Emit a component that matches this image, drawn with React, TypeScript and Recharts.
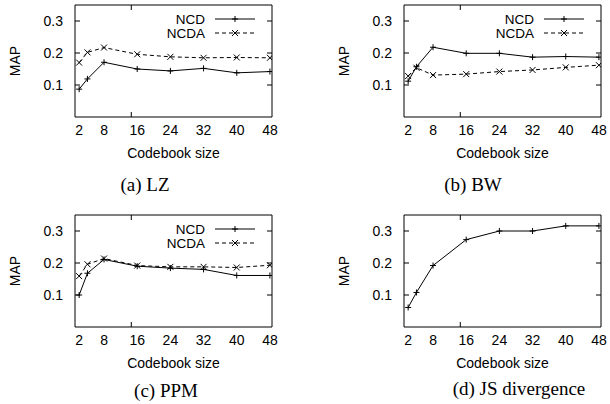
import React from 'react';
import { LineChart, Line, XAxis, YAxis, Legend } from 'recharts';

const codebookSizes = [2, 4, 8, 16, 24, 32, 40, 48];
const xTicks = [2, 8, 16, 24, 32, 40, 48];
const yTicks = [0.1, 0.2, 0.3];

// MAP per codebook size
const lzNcd = [0.087, 0.119, 0.171, 0.150, 0.144, 0.152, 0.138, 0.142];
const lzNcda = [0.170, 0.202, 0.217, 0.196, 0.188, 0.185, 0.186, 0.185];
const bwNcd = [0.112, 0.157, 0.218, 0.199, 0.199, 0.187, 0.189, 0.187];
const bwNcda = [0.128, 0.154, 0.131, 0.134, 0.142, 0.147, 0.155, 0.162];
const ppmNcd = [0.100, 0.168, 0.211, 0.190, 0.184, 0.180, 0.161, 0.161];
const ppmNcda = [0.159, 0.196, 0.214, 0.192, 0.188, 0.188, 0.186, 0.193];
const jsNcd = [0.061, 0.108, 0.192, 0.273, 0.300, 0.300, 0.316, 0.316];

const SANS = '"Liberation Sans", Arial, sans-serif';
const SERIF = '"Liberation Serif", "Times New Roman", serif';

const plusPath = (x: number, y: number) => `M${x - 3},${y}h6M${x},${y - 3}v6`;
const crossPath = (x: number, y: number) => `M${x - 3},${y - 3}l6,6M${x - 3},${y + 3}l6,-6`;

const PlusDot = (props: any) => {
    const { cx, cy, index } = props;
    if (cx == null || cy == null) return <g key={`p-${index}`} />;
    return <path key={`p-${index}`} d={plusPath(cx, cy)} stroke="#000" strokeWidth={1} fill="none" />;
};

const CrossDot = (props: any) => {
    const { cx, cy, index } = props;
    if (cx == null || cy == null) return <g key={`c-${index}`} />;
    return <path key={`c-${index}`} d={crossPath(cx, cy)} stroke="#000" strokeWidth={1} fill="none" />;
};

// mirror axes only draw the inward tick marks, no labels
const NoLabel = () => <g />;

const renderLegend = () => (
    <svg width={130} height={30} style={{ display: 'block' }}>
        <text x={75} y={9} textAnchor="end" dominantBaseline="central" fontSize={13.5} fontFamily={SANS} fill="#000">NCD</text>
        <line x1={85} x2={125} y1={9} y2={9} stroke="#000" strokeWidth={1} />
        <path d={plusPath(105, 9)} stroke="#000" strokeWidth={1} />
        <text x={75} y={23} textAnchor="end" dominantBaseline="central" fontSize={13.5} fontFamily={SANS} fill="#000">NCDA</text>
        <line x1={85} x2={125} y1={23} y2={23} stroke="#000" strokeWidth={1} strokeDasharray="4 3" />
        <path d={crossPath(105, 23)} stroke="#000" strokeWidth={1} />
    </svg>
);

interface PanelProps {
    left: number;
    top: number;
    ncd: number[];
    ncda?: number[];
}

const Panel: React.FC<PanelProps> = ({ left, top, ncd, ncda }) => {
    const data = codebookSizes.map((size, i) => ({
        size,
        ncd: ncd[i],
        ncda: ncda ? ncda[i] : null,
    }));
    const xDomain: [number, number] = [1, 48.5];
    const yDomain: [number, number] = [0, 0.35];
    const frame = { stroke: '#000', strokeWidth: 1 };

    return (
        <div style={{ position: 'absolute', left, top }}>
            <LineChart width={280} height={166} data={data} margin={{ top: 5, right: 8, bottom: 8, left: 0 }} style={{ fontFamily: SANS }}>
                <XAxis
                    dataKey="size"
                    type="number"
                    domain={xDomain}
                    allowDataOverflow
                    ticks={xTicks}
                    axisLine={frame}
                    tickLine={false}
                    tick={{ fill: '#000', fontSize: 14 }}
                    height={41}
                    label={{ value: 'Codebook size', position: 'insideBottom', offset: 0, fill: '#000', fontSize: 14 }}
                />
                <XAxis xAxisId="bm" orientation="bottom" mirror type="number" domain={xDomain} allowDataOverflow ticks={xTicks}
                    tick={NoLabel} tickLine={frame} tickSize={5} axisLine={false} />
                <XAxis xAxisId="tm" orientation="top" mirror type="number" domain={xDomain} allowDataOverflow ticks={xTicks}
                    tick={NoLabel} tickLine={frame} tickSize={5} axisLine={frame} />
                <YAxis
                    type="number"
                    domain={yDomain}
                    allowDataOverflow
                    ticks={yTicks}
                    width={75}
                    axisLine={frame}
                    tickLine={false}
                    tickMargin={6}
                    tick={{ fill: '#000', fontSize: 14 }}
                    tickFormatter={(v: number) => v.toFixed(1)}
                    label={{ value: 'MAP', angle: -90, position: 'insideLeft', offset: 15, fill: '#000', fontSize: 14, style: { textAnchor: 'middle' } }}
                />
                <YAxis yAxisId="lm" orientation="left" mirror type="number" domain={yDomain} allowDataOverflow ticks={yTicks}
                    tick={NoLabel} tickLine={frame} tickSize={5} axisLine={false} />
                <YAxis yAxisId="rm" orientation="right" mirror type="number" domain={yDomain} allowDataOverflow ticks={yTicks}
                    tick={NoLabel} tickLine={frame} tickSize={5} axisLine={frame} />
                {ncda && (
                    <Legend
                        layout="vertical"
                        align="center"
                        verticalAlign="middle"
                        content={renderLegend}
                        wrapperStyle={{ left: 130, top: 10, width: 130, height: 30 }}
                    />
                )}
                <Line dataKey="ncd" stroke="#000" strokeWidth={1} dot={PlusDot} activeDot={false} isAnimationActive={false} />
                {ncda && (
                    <Line dataKey="ncda" stroke="#000" strokeWidth={1} strokeDasharray="4 3" dot={CrossDot} activeDot={false} isAnimationActive={false} />
                )}
            </LineChart>
        </div>
    );
};

const Caption: React.FC<{ x: number; y: number; text: string }> = ({ x, y, text }) => (
    <div style={{ position: 'absolute', left: x, top: y, transform: 'translate(-50%, -50%)', fontFamily: SERIF, fontSize: 19, lineHeight: 1, whiteSpace: 'nowrap', color: '#000' }}>
        {text}
    </div>
);

export default function App() {
    return (
        <div style={{ position: 'absolute', left: 0, top: 0, width: 610, height: 404, background: '#fff', overflow: 'hidden' }}>
            <Panel left={0} top={0} ncd={lzNcd} ncda={lzNcda} />
            <Panel left={329} top={0} ncd={bwNcd} ncda={bwNcda} />
            <Panel left={0} top={210} ncd={ppmNcd} ncda={ppmNcda} />
            <Panel left={329} top={210} ncd={jsNcd} />
            <Caption x={145} y={184} text="(a) LZ" />
            <Caption x={473} y={184} text="(b) BW" />
            <Caption x={166} y={390} text="(c) PPM" />
            <Caption x={519} y={388} text="(d) JS divergence" />
        </div>
    );
}
